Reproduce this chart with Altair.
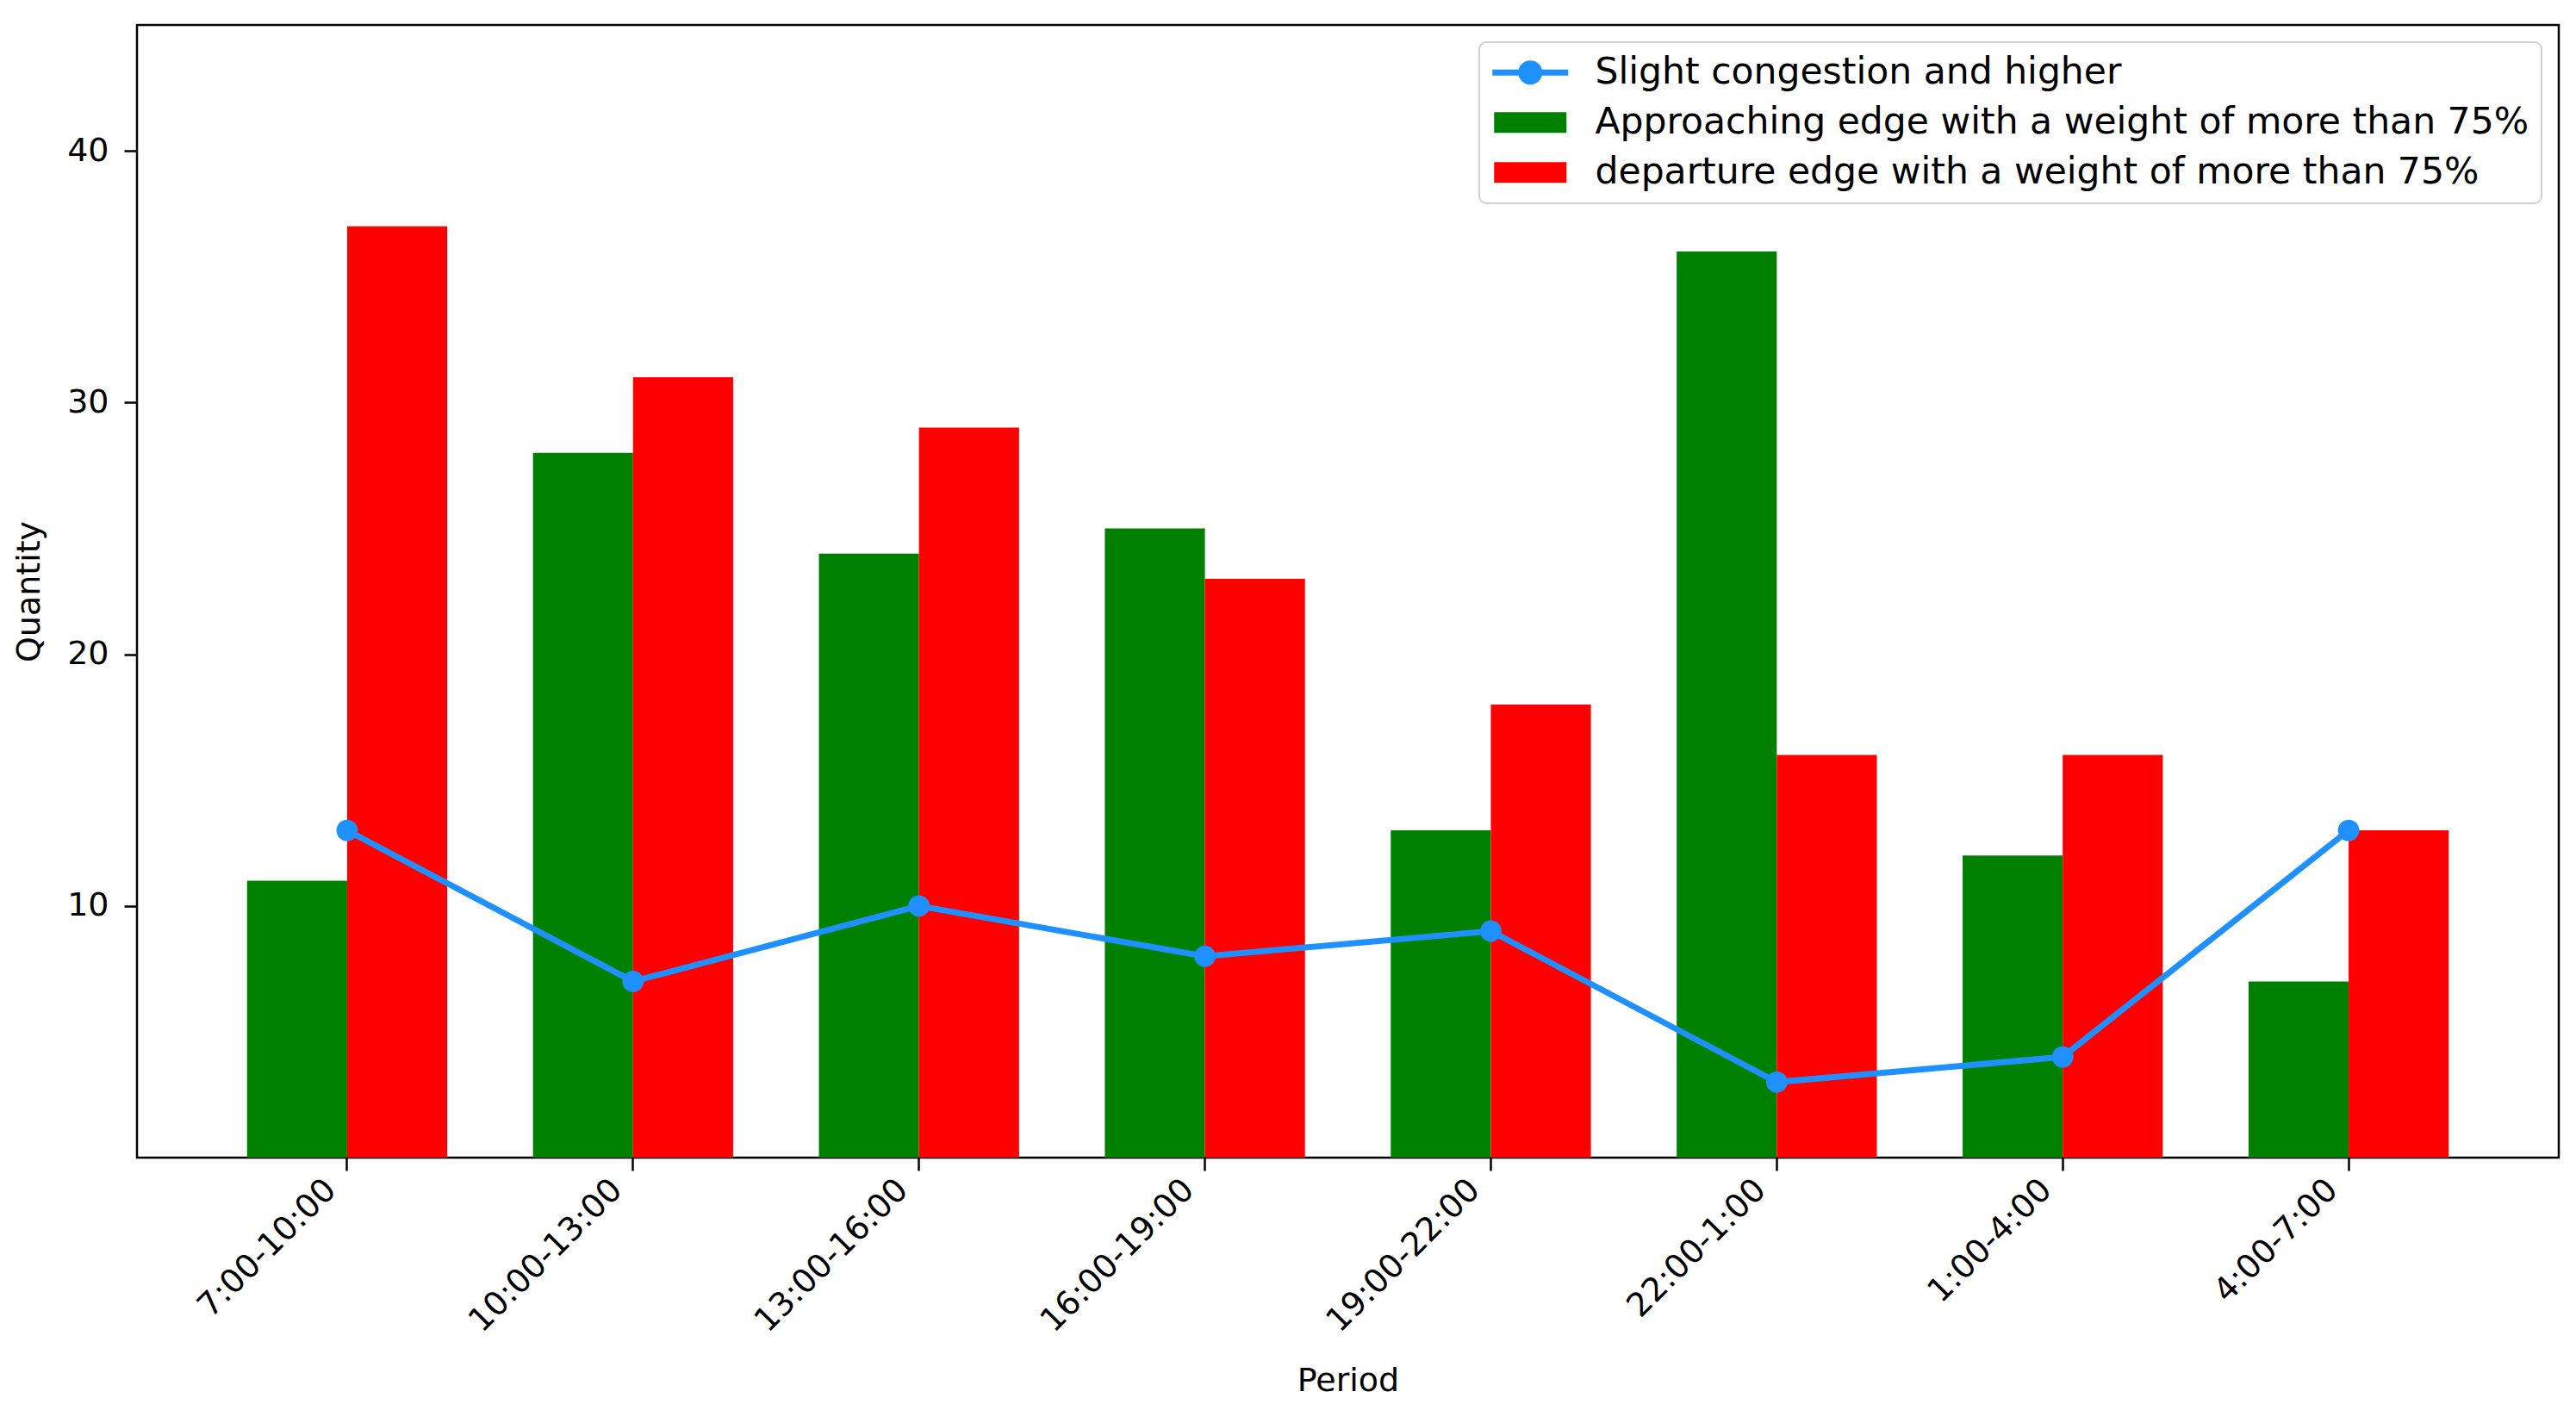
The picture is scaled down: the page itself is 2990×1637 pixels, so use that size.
import altair as alt
import pandas as pd

periods = ["7:00-10:00", "10:00-13:00", "13:00-16:00", "16:00-19:00",
           "19:00-22:00", "22:00-1:00", "1:00-4:00", "4:00-7:00"]
congestion = [13, 7, 10, 8, 9, 3, 4, 13]
approaching = [11, 28, 24, 25, 13, 36, 12, 7]
departure = [37, 31, 29, 23, 18, 16, 16, 13]

S_LINE = "Slight congestion and higher"
S_APP = "Approaching edge with a weight of more than 75%"
S_DEP = "departure edge with a weight of more than 75%"
series_names = [S_LINE, S_APP, S_DEP]
series_colors = ["#1e90ff", "#008000", "#ff0000"]

line_path = ("M-1,-0.175L3.4,-0.175L3.4,0.175L-1,0.175Z "
             "M1.9,0A0.7,0.7,0,1,1,0.5,0A0.7,0.7,0,1,1,1.9,0Z")
rect_path = "M-0.9,-0.6L3.3,-0.6L3.3,0.6L-0.9,0.6Z"
series_shapes = [line_path, rect_path, rect_path]

bars_df = pd.DataFrame({
    "Period": periods * 2,
    "series": [S_APP] * len(periods) + [S_DEP] * len(periods),
    "value": approaching + departure,
})
line_df = pd.DataFrame({"Period": periods, "value": congestion})
legend_df = pd.DataFrame({"Period": [periods[0]] * 3, "series": series_names,
                          "value": [None, None, None]})

FONT = "DejaVu Sans"
FS = 38

x_enc = alt.X("Period:N", sort=periods,
              scale=alt.Scale(paddingInner=0.3, paddingOuter=0.385),
              axis=alt.Axis(title="Period", labelAngle=-45, labelAlign="right",
                            labelBaseline="top", labelPadding=3, labelOffset=-32,
                            titlePadding=40, labelLimit=1000))
y_scale = alt.Scale(domain=[0, 45], nice=False, zero=True)
y_enc = alt.Y("value:Q", scale=y_scale,
              axis=alt.Axis(title="Quantity", values=[10, 20, 30, 40], grid=False,
                            labelPadding=18, titlePadding=24))

color_scale = alt.Scale(domain=series_names, range=series_colors)
shape_scale = alt.Scale(domain=series_names, range=series_shapes)
legend = alt.Legend(title=None, orient="top-right", offset=20)

bars = alt.Chart(bars_df).mark_bar().encode(
    x=x_enc,
    y=y_enc,
    xOffset=alt.XOffset("series:N", scale=alt.Scale(domain=[S_APP, S_DEP])),
    color=alt.Color("series:N", scale=color_scale, legend=legend),
)

line = alt.Chart(line_df).mark_line(color="#1e90ff", strokeWidth=7).encode(
    x=alt.X("Period:N", sort=periods),
    y=alt.Y("value:Q"),
)
points = alt.Chart(line_df).mark_circle(color="#1e90ff", size=615, opacity=1).encode(
    x=alt.X("Period:N", sort=periods),
    y=alt.Y("value:Q"),
)
legend_layer = alt.Chart(legend_df).mark_point(filled=True, opacity=1).encode(
    x=alt.X("Period:N", sort=periods),
    y=alt.Y("value:Q"),
    color=alt.Color("series:N", scale=color_scale, legend=legend),
    shape=alt.Shape("series:N", scale=shape_scale, legend=legend),
)

chart = alt.layer(bars, line, points, legend_layer).properties(
    width=2811, height=1315,
    autosize=alt.AutoSizeParams(type="none"),
    padding={"left": 151, "top": 21, "right": 10, "bottom": 285},
).configure(
    font=FONT,
).configure_view(
    stroke="black", strokeWidth=2.5,
).configure_axis(
    domain=False, tickColor="black", tickWidth=2.5, tickSize=15,
    labelFont=FONT, labelFontSize=FS, labelColor="black",
    titleFont=FONT, titleFontSize=FS, titleFontWeight="normal", titleColor="black",
).configure_legend(
    labelFont=FONT, labelFontSize=42.5, labelColor="black", labelOffset=78,
    symbolSize=1600, symbolStrokeWidth=0, rowPadding=15,
    padding=14, strokeColor="#d0d0d0", strokeWidth=2, cornerRadius=8,
    fillColor="white", labelLimit=2000,
)

chart.save("out.html", embed_options={"renderer": "svg", "actions": False})
